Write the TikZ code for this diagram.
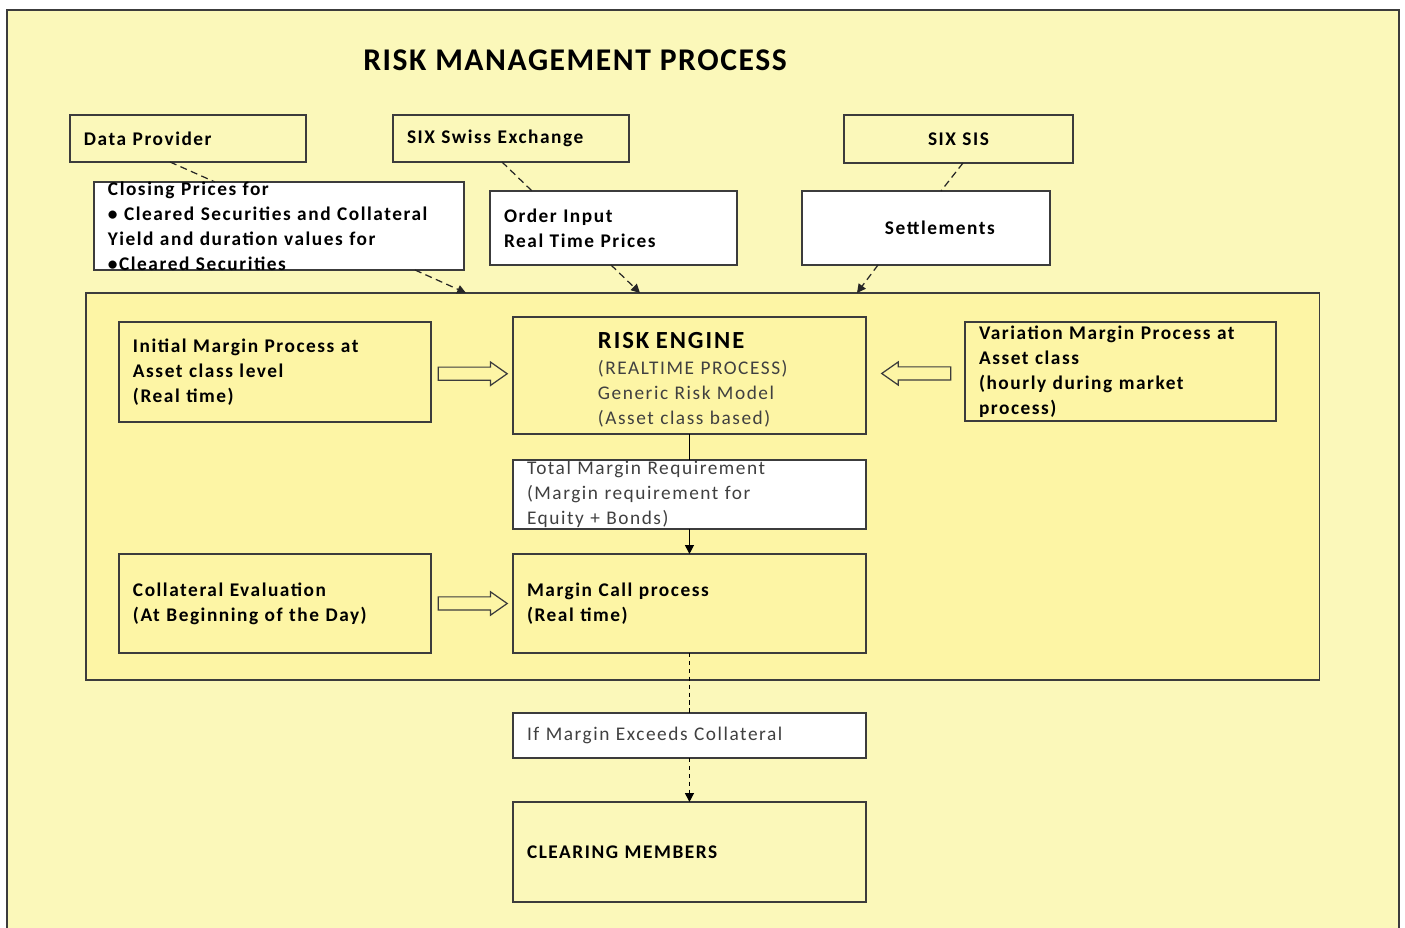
\documentclass[tikz,border=0pt]{standalone}
\usepackage{fontspec}
\setmainfont{Carlito}[LetterSpace=8]
\newfontfamily\titlefont{Carlito}[LetterSpace=5]
\usetikzlibrary{shapes.arrows, arrows.meta, positioning, calc}

\definecolor{paleyellow}{HTML}{FBF8BA}
\definecolor{boxyellow}{HTML}{FDF5A5}
\definecolor{boxline}{HTML}{3C3C3C}
\definecolor{softtext}{HTML}{404040}

\begin{document}
\begin{tikzpicture}[
        x=0.02cm, y=-0.02cm,
        box/.style={draw=boxline, line width=0.8pt, anchor=north west, outer sep=0pt,
            inner xsep=0.28cm, inner ysep=0pt, align=left,
            font=\fontsize{11}{14.2}\selectfont\bfseries},
        src/.style={box, fill=paleyellow},
        feed/.style={box, fill=white},
        proc/.style={box, fill=boxyellow},
        note/.style={box, fill=white, text=softtext, font=\fontsize{11}{14.2}\selectfont},
        title/.style={font=\titlefont\fontsize{18}{20}\selectfont\bfseries},
        hollow/.style={single arrow, draw=boxline, line width=0.7pt, inner sep=0pt,
            text height=0.12cm, text depth=0.12cm, minimum height=1.38cm,
            single arrow head extend=0.1cm, single arrow tip angle=70},
        feedline/.style={dash pattern=on 4pt off 2.5pt, line width=0.7pt, black!85},
        feedarrow/.style={feedline, -{Triangle[length=5pt, width=5pt]}},
        flow/.style={line width=0.7pt, black},
        callline/.style={dash pattern=on 2.5pt off 2pt, line width=0.7pt, black}
    ]

    \useasboundingbox (0,0) rectangle (1405,928);
    \clip (0,0) rectangle (1405,928);
    \fill[white] (0,0) rectangle (1405,928);
    \draw[boxline, line width=1.3pt, fill=paleyellow] (7,10) rectangle (1399,960);

    \node[title] (title) at (575,60) {RISK MANAGEMENT PROCESS};

    % --- Sources ---
    \node[src, text width=4.16cm, minimum height=0.94cm] (dataprov) at (70,115) {Data Provider};
    \node[src, text width=4.16cm, minimum height=0.94cm] (sixswx) at (393,115) {SIX Swiss Exchange};
    \node[src, align=center, text width=4.02cm, minimum height=0.96cm] (sixsis) at (844,115) {SIX SIS};

    % --- Feeds ---
    \node[feed, text width=6.84cm, minimum height=1.76cm, inner ysep=-0.1cm] (closing) at (94,182)
        {Closing Prices for\\ \textbullet\ Cleared Securities and Collateral\\ Yield and duration values for\\ \textbullet Cleared Securities};
    \node[feed, text width=4.38cm, minimum height=1.48cm] (orderin) at (490,191) {Order Input\\Real Time Prices};
    \node[feed, text width=4.4cm, minimum height=1.48cm] (settle) at (802,191) {\hspace*{1.38cm}Settlements};

    % --- Risk engine area ---
    \node[draw=boxline, line width=0.8pt, fill=boxyellow, anchor=north west, outer sep=0pt,
        minimum width=24.68cm, minimum height=7.74cm] (frame) at (86,293) {};

    \node[proc, text width=5.68cm, minimum height=2cm] (initm) at (119,322)
        {Initial Margin Process at\\Asset class level\\(Real time)};
    \node[proc, text width=6.5cm, minimum height=2.34cm, text=softtext, font=\fontsize{11}{14.2}\selectfont] (engine) at (513,317)
        {\hspace*{1.42cm}\raisebox{-0.12cm}[\height][\depth]{\begin{tabular}{@{}l@{}}
            {\color{black}\bfseries\fontsize{14}{16}\selectfont RISK ENGINE}\\[1pt]
            (REALTIME PROCESS)\\
            Generic Risk Model\\
            (Asset class based)
        \end{tabular}}};
    \node[proc, text width=5.66cm, minimum height=1.98cm] (varm) at (965,322)
        {Variation Margin Process at\\Asset class\\(hourly during market\\process)};
    \node[note, text width=6.5cm, minimum height=1.38cm] (total) at (513,460)
        {Total Margin Requirement\\(Margin requirement for\\Equity + Bonds)};
    \node[proc, text width=5.68cm, minimum height=1.98cm] (coll) at (119,554)
        {Collateral Evaluation\\(At Beginning of the Day)};
    \node[proc, text width=6.5cm, minimum height=1.98cm] (mcall) at (513,554)
        {Margin Call process\\(Real time)};

    % --- Outcome ---
    \node[note, text width=6.5cm, minimum height=0.9cm] (ifmarg) at (513,713) {If Margin Exceeds Collateral};
    \node[src, text width=6.5cm, minimum height=2cm] (clear) at (513,802) {CLEARING MEMBERS};

    % hollow arrows into the engine
    \path (initm.east) -- node[hollow, xshift=-0.08cm] (imarrow) {} (engine.west);
    \path (varm.west) -- node[hollow, xshift=0.11cm, shape border rotate=180] (vmarrow) {} (engine.east);
    \path (coll.east) -- node[hollow, xshift=-0.08cm] (colarrow) {} (mcall.west);

    % feed lines
    \draw[feedline] ($(dataprov.south west)+(100,0)$) -- ($(closing.north west)+(121,0)$);
    \draw[feedarrow] ($(closing.south west)+(321,0)$) -- ($(frame.north west)+(380,0)$);
    \draw[feedline] ($(sixswx.south west)+(109,0)$) -- ($(orderin.north west)+(42,0)$);
    \draw[feedarrow] ($(orderin.south west)+(121,0)$) -- ($(frame.north west)+(554,0)$);
    \draw[feedline] ($(sixsis.south west)+(119,0)$) -- ($(settle.north west)+(139,0)$);
    \draw[feedarrow] ($(settle.south west)+(76,0)$) -- ($(frame.north west)+(771,0)$);

    % engine to margin call
    \draw[flow] (engine.south) -- (total.north);
    \draw[flow, -{Triangle[length=5pt, width=5pt]}] (total.south) -- (mcall.north);
    \draw[callline] (mcall.south) -- (ifmarg.north);
    \draw[callline, -{Triangle[length=5pt, width=5pt]}] (ifmarg.south) -- (clear.north);

\end{tikzpicture}
\end{document}
